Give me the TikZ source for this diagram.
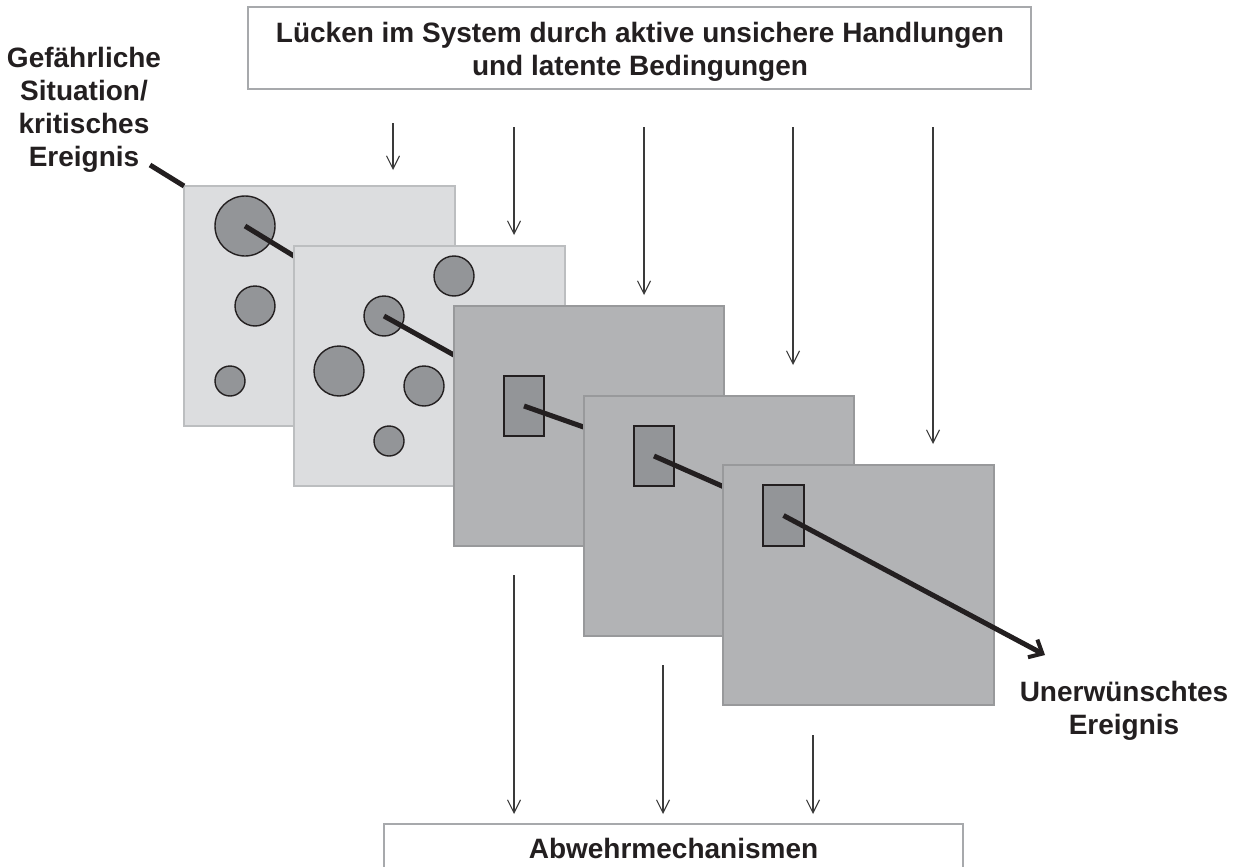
\documentclass[tikz,border=0pt]{standalone}
\usepackage{fontspec}
\setmainfont{Liberation Sans}
\usetikzlibrary{arrows.meta}
\definecolor{ink}{HTML}{231F20}
\definecolor{paneLight}{HTML}{DCDDDF}
\definecolor{paneLightEdge}{HTML}{BCBEC0}
\definecolor{paneDark}{HTML}{B2B3B5}
\definecolor{paneDarkEdge}{HTML}{98999B}
\definecolor{holeFill}{HTML}{939598}
\definecolor{boxEdge}{HTML}{A7A9AC}
\definecolor{arrowInk}{HTML}{3A3A3A}
\tikzset{
  lbl/.style={font=\fontsize{28}{33}\selectfont\bfseries, text=ink, align=center, inner sep=0pt, outer sep=0pt},
  panelL/.style={rectangle, anchor=north west, inner sep=0pt, outer sep=0pt, fill=paneLight, draw=paneLightEdge, line width=1.6pt, minimum width=271pt, minimum height=240pt},
  panelD/.style={rectangle, anchor=north west, inner sep=0pt, outer sep=0pt, fill=paneDark, draw=paneDarkEdge, line width=1.6pt, minimum width=270pt, minimum height=240pt},
  hole/.style={circle, inner sep=0pt, outer sep=0pt, fill=holeFill, draw=ink, line width=1.4pt},
  gap/.style={rectangle, anchor=north west, inner sep=0pt, outer sep=0pt, fill=holeFill, draw=ink, line width=1.4pt, minimum width=40pt, minimum height=60pt},
  path/.style={draw=ink, line width=5pt},
  thinarrow/.style={draw=arrowInk, line width=1.1pt, -{Straight Barb[length=13pt,width=13pt,line width=1.1pt]}},
  framebox/.style={rectangle, anchor=north west, inner sep=0pt, outer sep=0pt, draw=boxEdge, line width=1.6pt, fill=white}
}
\begin{document}
\begin{tikzpicture}[x=1pt,y=-1pt]
\useasboundingbox (0,0) rectangle (1234,867);
\clip (0,0) rectangle (1234,867);
\fill[white] (0,0) rectangle (1234,867);

% top box
\node[framebox, minimum width=783pt, minimum height=82pt] (topbox) at (248,7) {};
\node[lbl] (toptext) at (640,52) {Lücken im System durch aktive unsichere Handlungen\\und latente Bedingungen};

% bottom box
\node[framebox, minimum width=579pt, minimum height=70pt] (botbox) at (384,824) {};
\node[lbl, anchor=base] (bottext) at (673.5,858) {Abwehrmechanismen};

% labels
\node[lbl] (startlbl) at (84,110) {Gefährliche\\Situation/\\kritisches\\Ereignis};
\node[lbl] (endlbl) at (1124,711) {Unerwünschtes\\Ereignis};

% panel 1
\node[panelL] (p1) at (184,186) {};
\node[hole, minimum size=60pt] (h11) at (245,226) {};
\node[hole, minimum size=40pt] (h12) at (255,306) {};
\node[hole, minimum size=30pt] (h13) at (230,381) {};
\coordinate (lblend) at (150,165);
\draw[path] (lblend) -- (p1.north west);
\coordinate (e1) at (300,259.7);
\draw[path] (h11.center) -- (e1);

% panel 2
\node[panelL] (p2) at (294,246) {};
\node[hole, minimum size=40pt] (h21) at (454,276) {};
\node[hole, minimum size=40pt] (h22) at (384,316) {};
\node[hole, minimum size=50pt] (h23) at (339,371) {};
\node[hole, minimum size=40pt] (h24) at (424,386) {};
\node[hole, minimum size=30pt] (h25) at (389,441) {};
\coordinate (e2) at (462,359.5);
\draw[path] (h22.center) -- (e2);

% panel 3
\node[panelD] (p3) at (454,306) {};
\node[gap] (g3) at (504,376) {};
\coordinate (e3) at (592,430);
\draw[path] (g3.center) -- (e3);

% panel 4
\node[panelD] (p4) at (584,396) {};
\node[gap] (g4) at (634,426) {};
\coordinate (e4) at (731,490);
\draw[path] (g4.center) -- (e4);

% panel 5
\node[panelD, minimum width=271pt] (p5) at (723,465) {};
\node[gap, minimum width=41pt, minimum height=61pt] (g5) at (763,485) {};
\coordinate (e5) at (1045,655);
\draw[path, -{Straight Barb[length=11pt,width=20pt,line width=4pt]}] (g5.center) -- (e5);

% top arrows
\coordinate (ta1) at (393,123); \coordinate (tb1) at (393,170);
\coordinate (ta2) at (514,127); \coordinate (tb2) at (514,235);
\coordinate (ta3) at (644,127); \coordinate (tb3) at (644,295);
\coordinate (ta4) at (793,127); \coordinate (tb4) at (793,365);
\coordinate (ta5) at (933,127); \coordinate (tb5) at (933,444);
\draw[thinarrow] (ta1) -- (tb1);
\draw[thinarrow] (ta2) -- (tb2);
\draw[thinarrow] (ta3) -- (tb3);
\draw[thinarrow] (ta4) -- (tb4);
\draw[thinarrow] (ta5) -- (tb5);

% bottom arrows
\coordinate (ba1) at (514,575); \coordinate (bb1) at (514,814);
\coordinate (ba2) at (663,665); \coordinate (bb2) at (663,814);
\coordinate (ba3) at (813,735); \coordinate (bb3) at (813,814);
\draw[thinarrow] (ba1) -- (bb1);
\draw[thinarrow] (ba2) -- (bb2);
\draw[thinarrow] (ba3) -- (bb3);
\end{tikzpicture}
\end{document}
